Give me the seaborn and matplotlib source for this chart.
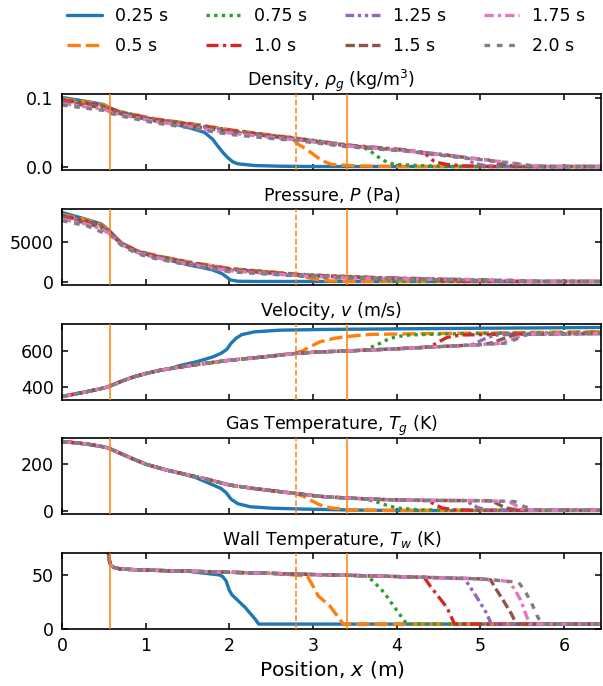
import numpy as np
import pandas as pd
import matplotlib
matplotlib.use("Agg")
import matplotlib.pyplot as plt
import seaborn as sns

sns.set_style("ticks")
plt.rcParams["font.family"] = ["DejaVu Sans"]
plt.rcParams["mathtext.fontset"] = "dejavusans"
for key in ["text.color", "axes.labelcolor", "axes.edgecolor", "xtick.color", "ytick.color"]:
    plt.rcParams[key] = "black"

# ---------------------------------------------------------------- data
times = ["0.25 s", "0.5 s", "0.75 s", "1.0 s", "1.25 s", "1.5 s", "1.75 s", "2.0 s"]
colors = ["#1f77b4", "#ff7f0e", "#2ca02c", "#d62728",
          "#9467bd", "#8c564b", "#e377c2", "#7f7f7f"]
x_end = 6.44
markers_x = [0.573, 2.80, 3.40]          # vertical reference positions (m)

# Density (kg/m^3): per-series upstream values on a shared grid, then front points
dens_grid = [0.0, 0.3, 0.5, 0.57, 0.7, 1.1, 1.5, 2.0, 2.5, 2.8, 3.4, 4.1, 4.7, 5.3]
dens_up = [
    [0.101, 0.095, 0.0905, 0.086, 0.079, 0.0685, 0.0575],
    [0.099, 0.094, 0.090, 0.086, 0.080, 0.070, 0.0635, 0.054, 0.046],
    [0.098, 0.093, 0.089, 0.085, 0.080, 0.0695, 0.063, 0.0535, 0.0455, 0.0415, 0.032],
    [0.097, 0.092, 0.088, 0.084, 0.079, 0.069, 0.062, 0.053, 0.045, 0.041, 0.0315, 0.0245],
    [0.095, 0.090, 0.087, 0.083, 0.078, 0.068, 0.061, 0.052, 0.0445, 0.040, 0.031, 0.024, 0.0155],
    [0.094, 0.089, 0.086, 0.082, 0.077, 0.067, 0.060, 0.051, 0.044, 0.040, 0.0305, 0.0235, 0.015],
    [0.092, 0.087, 0.084, 0.080, 0.076, 0.066, 0.059, 0.049, 0.0425, 0.039, 0.030, 0.023, 0.0145, 0.0065],
    [0.090, 0.085, 0.082, 0.078, 0.074, 0.064, 0.057, 0.047, 0.041, 0.038, 0.029, 0.0225, 0.014, 0.006],
]
dens_front_x = [
    [1.7, 1.8, 1.86, 1.92, 1.98, 2.04, 2.1, 2.3, 2.6, 3.0],
    [2.78, 2.80, 2.9, 2.98, 3.1, 3.22, 3.5, 4.0],
    [3.6, 3.68, 3.8, 3.88, 3.98, 4.26, 4.6],
    [4.34, 4.40, 4.46, 4.6, 4.8, 5.2],
    [4.82, 4.87, 4.95, 5.07, 5.4],
    [5.1, 5.19, 5.3, 5.5],
    [5.5, 5.65, 5.8],
    [5.5, 5.65, 5.8],
]
dens_front_y = [
    [0.050, 0.040, 0.030, 0.021, 0.013, 0.007, 0.004, 0.0015, 0.0005, 0.0],
    [0.042, 0.034, 0.027, 0.020, 0.009, 0.003, 0.001, 0.0],
    [0.028, 0.023, 0.012, 0.0065, 0.003, 0.0015, 0.0],
    [0.019, 0.012, 0.0065, 0.003, 0.001, 0.0],
    [0.013, 0.0075, 0.004, 0.001, 0.0],
    [0.0095, 0.006, 0.002, 0.0],
    [0.003, 0.001, 0.0],
    [0.0028, 0.001, 0.0],
]

# Pressure (Pa)
pres_grid = [0.0, 0.3, 0.47, 0.57, 0.71, 0.9, 1.11, 1.51, 2.0, 2.8, 3.4, 4.0, 4.5, 5.0]
pres_up = [
    [8800, 7900, 7340, 6450, 4920, 3850, 3170, 2170],
    [8550, 7850, 7250, 6350, 4950, 3950, 3380, 2540, 1710],
    [8450, 7750, 7150, 6300, 4930, 3920, 3350, 2500, 1670, 970, 700],
    [8350, 7650, 7050, 6250, 4900, 3880, 3300, 2450, 1620, 930, 660, 480],
    [8200, 7550, 6950, 6200, 4850, 3820, 3250, 2400, 1560, 890, 620, 450, 360],
    [8100, 7450, 6850, 6150, 4800, 3770, 3200, 2350, 1500, 850, 580, 420, 340, 270],
    [7950, 7300, 6700, 6100, 4720, 3700, 3100, 2250, 1400, 800, 500, 390, 310, 250],
    [7750, 7100, 6330, 6000, 4630, 3550, 2960, 2130, 1290, 750, 430, 350, 280, 220],
]
pres_front_x = [
    [1.79, 1.91, 1.97, 2.01, 2.1, 2.3],
    [2.78, 2.85, 2.95, 3.05, 3.2, 3.4],
    [3.62, 3.72, 3.85, 4.0, 4.3],
    [4.36, 4.45, 4.6, 4.8],
    [4.82, 4.9, 5.05, 5.3],
    [5.12, 5.2, 5.35, 5.6],
    [5.35, 5.45, 5.6, 6.0],
    [5.45, 5.55, 5.7, 6.0],
]
pres_front_y = [
    [1550, 1050, 600, 250, 80, 50],
    [1000, 800, 500, 280, 120, 60],
    [600, 450, 200, 90, 50],
    [400, 250, 100, 50],
    [300, 180, 70, 40],
    [250, 150, 60, 40],
    [210, 130, 60, 40],
    [180, 120, 60, 40],
]

# Velocity (m/s): shared upstream curve, then per-series rise
vel_x = [0.0, 0.3, 0.5, 0.57, 0.7, 0.85, 1.0, 1.15, 1.3, 1.6, 2.0, 2.4, 2.8, 3.08, 3.4,
         4.0, 4.26, 4.6, 4.97, 5.2, 5.3, 5.4]
vel_base = [348, 375, 395, 405, 430, 455, 474, 490, 502, 523, 547, 565, 585, 593, 598,
            610, 616, 624, 632, 638, 641, 643]
vel_front_x = [
    [1.4, 1.6, 1.8, 1.9, 1.97, 2.02, 2.08, 2.15, 2.3, 2.6, 3.1, 4.5, 6.44],
    [2.8, 2.88, 2.95, 3.08, 3.25, 3.4, 3.68, 4.68, 6.44],
    [3.62, 3.7, 3.8, 3.92, 4.05, 4.16, 4.6, 6.44],
    [4.36, 4.44, 4.5, 4.6, 4.7, 4.8, 5.5, 6.44],
    [4.88, 4.95, 5.04, 5.12, 5.2, 5.6, 6.44],
    [5.05, 5.15, 5.24, 5.33, 5.41, 5.6, 6.44],
    [5.24, 5.33, 5.41, 5.5, 5.57, 6.44],
    [5.31, 5.4, 5.49, 5.56, 5.61, 6.44],
]
vel_front_y = [
    [517, 538, 565, 585, 607, 640, 668, 688, 703, 712, 716, 721, 727],
    [588, 600, 618, 648, 667, 677, 689, 695, 704],
    [603, 620, 640, 668, 680, 686, 692, 700],
    [620, 632, 648, 672, 681, 686, 691, 695],
    [630, 642, 663, 677, 686, 691, 695],
    [634, 645, 660, 675, 686, 690, 693],
    [640, 653, 667, 683, 692, 693],
    [641, 658, 675, 688, 693, 693],
]

# Gas temperature (K)
gas_x = [0.0, 0.3, 0.5, 0.57, 0.7, 0.85, 1.0, 1.25, 1.5, 1.75, 2.0, 2.3, 2.6, 2.8,
         3.08, 3.4, 3.8, 4.26, 4.6, 4.97, 5.2, 5.4]
gas_base = [296, 285, 273, 266, 245, 222, 200, 175, 155, 135, 112, 97, 84, 76,
            64, 57, 51, 47, 46.5, 46, 44, 42]
gas_front_x = [
    [1.4, 1.6, 1.8, 1.9, 1.96, 2.02, 2.1, 2.25, 2.5, 2.9, 3.5, 4.0],
    [2.8, 2.9, 2.98, 3.08, 3.2, 3.4, 3.7],
    [3.62, 3.7, 3.8, 3.88, 4.0, 4.26, 4.6],
    [4.33, 4.4, 4.47, 4.54, 4.68, 5.0],
    [4.82, 4.87, 4.97, 5.1, 5.4],
    [5.12, 5.19, 5.26, 5.32, 5.47],
    [5.3, 5.35, 5.42, 5.49, 5.6],
    [5.41, 5.46, 5.52, 5.65, 5.8],
]
gas_front_y = [
    [163, 143, 113, 97, 80, 52, 33, 20, 14, 10, 6, 4],
    [75, 62, 46, 28, 16, 8, 5],
    [53, 46, 36, 26, 15, 7, 5],
    [47, 40, 27, 15, 7, 5],
    [46, 36, 16, 6, 4.5],
    [45, 35, 22, 14, 5],
    [43, 40, 26, 11, 5],
    [42, 33, 21, 8, 5],
]

# Wall temperature (K)
wall_x = [0.545, 0.56, 0.58, 0.62, 0.7, 1.0, 1.5, 2.0, 2.5, 2.93, 3.5, 4.0,
          4.33, 4.81, 5.0, 5.13, 5.33, 5.45]
wall_base = [80, 66, 60, 57.5, 56, 55, 54, 53, 52, 51, 50, 49,
             48.3, 47.3, 46.8, 46, 44.5, 44]
wall_front_x = [
    [1.88, 1.92, 1.96, 2.0, 2.03, 2.19, 2.31, 2.35],
    [2.93, 3.0, 3.06, 3.2, 3.32, 3.36],
    [3.66, 3.75, 3.85, 3.93, 4.05, 4.12],
    [4.33, 4.4, 4.5, 4.6, 4.69],
    [4.81, 4.87, 4.97, 5.07, 5.13],
    [5.12, 5.18, 5.27, 5.37, 5.43],
    [5.33, 5.4, 5.48, 5.55, 5.59],
    [5.45, 5.52, 5.6, 5.68, 5.73],
]
wall_front_y = [
    [50.5, 49, 45, 36, 32, 20, 9, 4.6],
    [49.5, 40, 31, 21.5, 9, 4.6],
    [49, 42, 34, 25, 12, 4.6],
    [48, 40, 30, 20, 4.6],
    [47, 40, 28, 15, 4.6],
    [46, 38, 27, 14, 4.6],
    [44.5, 38, 27, 12, 4.6],
    [44, 37, 26, 12, 4.6],
]

titles = [r"Density, $\rho_g$ (kg/m$^3$)", r"Pressure, $P$ (Pa)",
          r"Velocity, $v$ (m/s)", r"Gas Temperature, $T_g$ (K)",
          r"Wall Temperature, $T_w$ (K)"]
yticks = [[0.0, 0.1], [0, 5000], [400, 600], [0, 200], [0, 50]]
ytick_labels = [["0.0", "0.1"], ["0", "5000"], ["400", "600"], ["0", "200"], ["0", "50"]]
xticks = [0, 1, 2, 3, 4, 5, 6]

dashes = {
    "0.25 s": "",
    "0.5 s": (4, 1.5),
    "0.75 s": (1, 1.3),
    "1.0 s": (3.6, 1.3, 1, 1.3),
    "1.25 s": (2.6, 1.1, 1, 1.1, 1, 1.1),
    "1.5 s": (2.8, 1.2),
    "1.75 s": (2.8, 1.2, 1, 1.2),
    "2.0 s": (1.7, 2.0),
}


def frame_from_grid(grid, ups, fx, fy):
    rows = []
    for t, up, xs, ys in zip(times, ups, fx, fy):
        px = list(grid[:len(up)]) + list(xs)
        py = list(up) + list(ys)
        if px[-1] < x_end:
            px.append(x_end)
            py.append(py[-1])
        rows.append(pd.DataFrame({"x": px, "value": py, "time": t}))
    return pd.concat(rows, ignore_index=True)


def frame_from_base(bx, by, fx, fy):
    rows = []
    for t, xs, ys in zip(times, fx, fy):
        keep = [i for i, v in enumerate(bx) if v < xs[0]]
        px = [bx[i] for i in keep] + list(xs)
        py = [by[i] for i in keep] + list(ys)
        if px[-1] < x_end:
            px.append(x_end)
            py.append(py[-1])
        rows.append(pd.DataFrame({"x": px, "value": py, "time": t}))
    return pd.concat(rows, ignore_index=True)


frames = [
    frame_from_grid(dens_grid, dens_up, dens_front_x, dens_front_y),
    frame_from_grid(pres_grid, pres_up, pres_front_x, pres_front_y),
    frame_from_base(vel_x, vel_base, vel_front_x, vel_front_y),
    frame_from_base(gas_x, gas_base, gas_front_x, gas_front_y),
    frame_from_base(wall_x, wall_base, wall_front_x, wall_front_y),
]

# ---------------------------------------------------------------- figure
W, H = 603, 686
fig = plt.figure(figsize=(W / 100, H / 100), dpi=100)
left, right = 62, 601
tops = [94, 209, 324, 438, 553]
ax_h = 76
palette = dict(zip(times, colors))

axes = []
for k, (df, ttl) in enumerate(zip(frames, titles)):
    ax = fig.add_axes([left / W, 1 - (tops[k] + ax_h) / H, (right - left) / W, ax_h / H])
    sns.lineplot(data=df, x="x", y="value", hue="time", style="time",
                 hue_order=times, style_order=times, palette=palette,
                 dashes=dashes, estimator=None, sort=False, linewidth=2.4,
                 ax=ax, legend=(k == 0))
    for xv, ls in zip(markers_x, ["-", "--", "-"]):
        ax.axvline(xv, color="#ff7f0e", lw=1.1, ls=ls, zorder=5)
    ax.set_xlim(0, x_end)
    if k == 4:
        ax.set_ylim(0, 71)
    ax.set_yticks(yticks[k])
    ax.set_yticklabels(ytick_labels[k])
    ax.set_xticks(xticks)
    ax.set_title(ttl, fontsize=12.5, pad=6, color="black")
    ax.set_ylabel("")
    ax.tick_params(direction="in", top=True, right=True, length=4.5, width=1.1,
                   labelsize=12.5, pad=6, colors="black")
    for s in ax.spines.values():
        s.set_linewidth(1.2)
        s.set_color("black")
    if k < 4:
        ax.set_xlabel("")
        ax.tick_params(labelbottom=False)
    else:
        ax.set_xlabel(r"Position, $x$ (m)", fontsize=14.5, labelpad=3, color="black")
    axes.append(ax)

leg = axes[0].get_legend()
handles = leg.legend_handles
labels = [t.get_text() for t in leg.get_texts()]
leg.remove()
for h in handles:
    h.set_linewidth(2.4)
fig.legend(handles, labels, ncol=4, loc="upper left",
           bbox_to_anchor=(67 / W, 1 - 7 / H), frameon=False, fontsize=12.5,
           borderpad=0, borderaxespad=0, handlelength=2.0, handletextpad=0.75,
           columnspacing=2.2, labelspacing=0.7)

fig.savefig("out.png", dpi=100)
